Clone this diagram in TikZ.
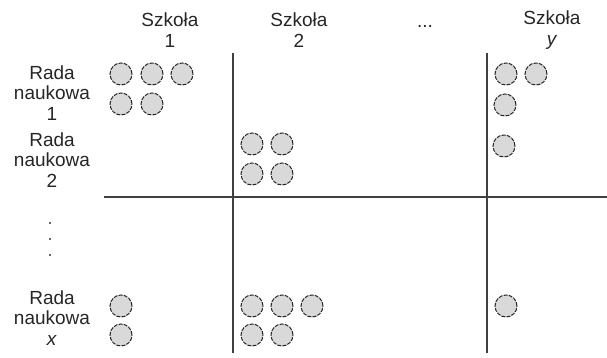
\documentclass[tikz,border=0pt]{standalone}
\usepackage{fontspec}
\setmainfont{Liberation Sans}
\begin{document}
\begin{tikzpicture}[x=1pt,y=-1pt,
  lbl/.style={align=center,font=\fontsize{19}{20.5}\selectfont,text=black!85,inner sep=0pt},
  grid/.style={draw=black!75,line width=1.4pt},
  memb/.style={circle,minimum size=22pt,inner sep=0pt,fill=black!15,draw=black!85,line width=1pt,dash pattern=on 4pt off 1.2pt},
  dotm/.style={circle,fill=black!80,inner sep=0pt,minimum size=2.2pt}]
\useasboundingbox (0,0) rectangle (607,358);
% headers
\node[lbl] (s1) at (170,30) {Szkoła\\1};
\node[lbl] (s2) at (299,30) {Szkoła\\2};
\node[lbl] (sd) at (425,26) {...};
\node[lbl] (sy) at (552,30) {Szkoła\\\textit{y}};
% row labels
\node[lbl] (r1) at (52,93) {Rada\\naukowa\\1};
\node[lbl] (r2) at (52,160) {Rada\\naukowa\\2};
\node[lbl] (rx) at (52,318) {Rada\\naukowa\\\textit{x}};
\node[dotm] (d1) at (50,223) {};
\node[dotm] (d2) at (50,239) {};
\node[dotm] (d3) at (50,255) {};
% grid lines
\coordinate (h0) at (104,197);
\coordinate (h1) at (607,197);
\coordinate (v1a) at (233,53);
\coordinate (v1b) at (233,353);
\coordinate (v2a) at (487,53);
\coordinate (v2b) at (487,353);
\draw[grid] (h0) -- (h1);
\draw[grid] (v1a) -- (v1b);
\draw[grid] (v2a) -- (v2b);
% members row 1
\node[memb] (a1) at (121,74) {};
\node[memb] (a2) at (152,74) {};
\node[memb] (a3) at (182,74) {};
\node[memb] (a4) at (121,104) {};
\node[memb] (a5) at (152,104) {};
\node[memb] (b1) at (506,74) {};
\node[memb] (b2) at (536,74) {};
\node[memb] (b3) at (505,105) {};
% row 2
\node[memb] (c1) at (252,144) {};
\node[memb] (c2) at (282,144) {};
\node[memb] (c3) at (252,174) {};
\node[memb] (c4) at (282,174) {};
\node[memb] (e1) at (504,146) {};
% row x
\node[memb] (f1) at (121,306) {};
\node[memb] (f2) at (121,335) {};
\node[memb] (g1) at (252,306) {};
\node[memb] (g2) at (282,306) {};
\node[memb] (g3) at (312,306) {};
\node[memb] (g4) at (252,335) {};
\node[memb] (g5) at (282,335) {};
\node[memb] (k1) at (506,306) {};
\end{tikzpicture}
\end{document}
